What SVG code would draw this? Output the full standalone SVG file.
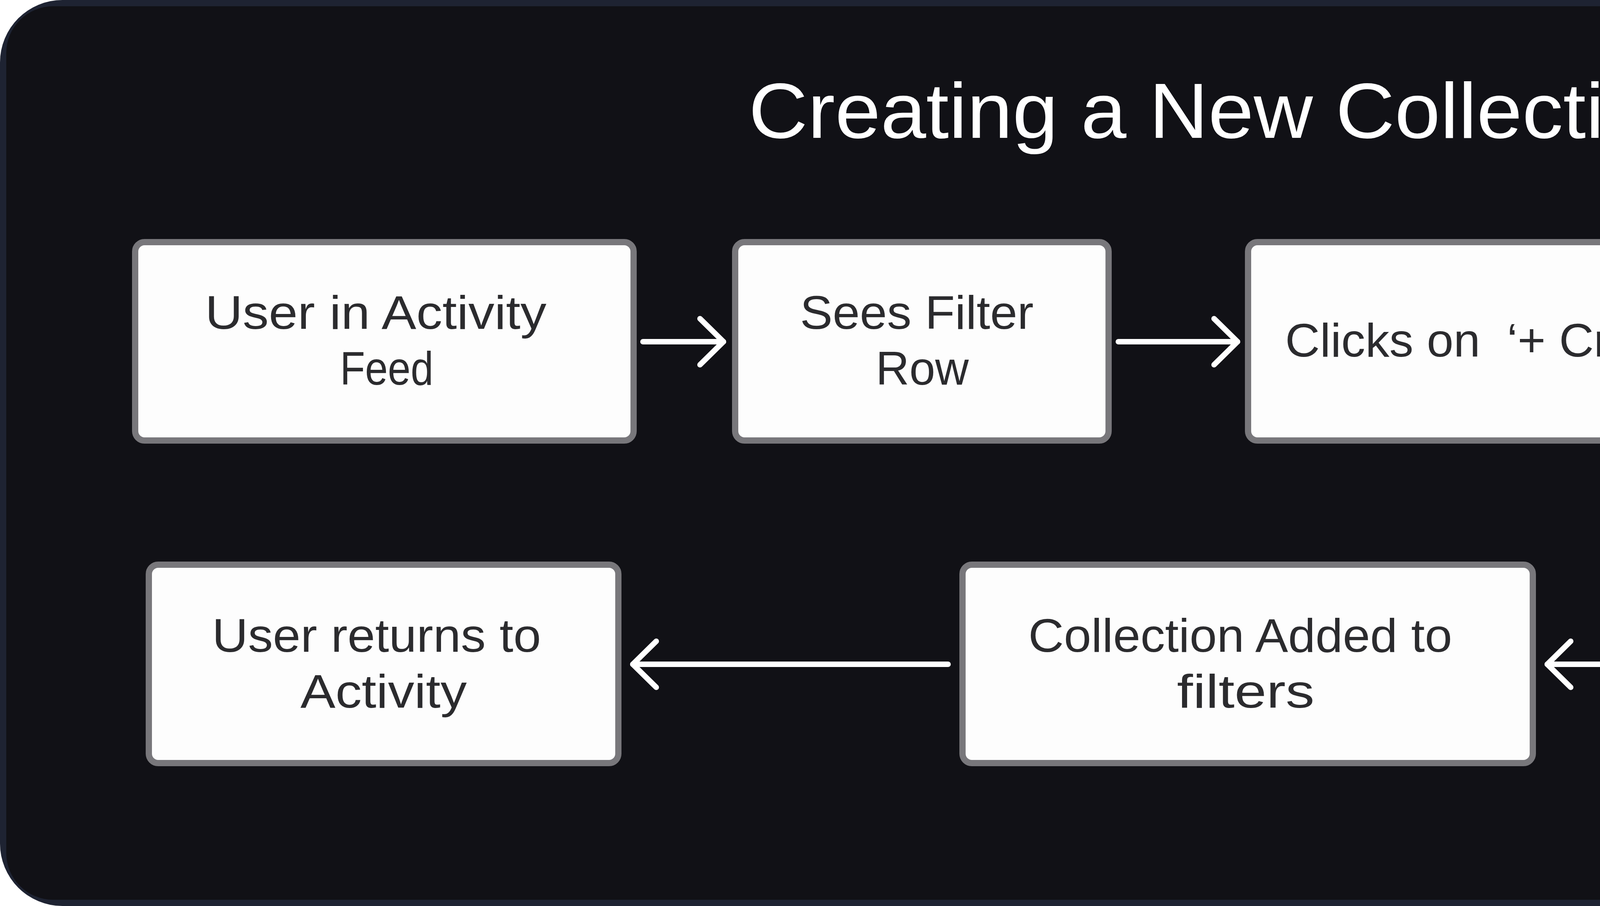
<svg xmlns="http://www.w3.org/2000/svg" width="6256" height="2320" viewBox="0 0 6256 2320">
  <style>
    .box { fill: #fdfdfd; stroke: #78777b; stroke-width: 16; }
    .lbl { font-family: "Liberation Sans", Arial, sans-serif; font-size: 120px; fill: #2b2b2e; text-anchor: middle; }
    .title { font-family: "Liberation Sans", Arial, sans-serif; font-size: 200px; fill: #ffffff; text-anchor: middle; }
    .conn { fill: none; stroke: #ffffff; stroke-width: 14; stroke-linecap: round; stroke-linejoin: round; }
  </style>
  <defs>
    <clipPath id="frameClip">
      <rect x="0" y="0" width="6256" height="2320" rx="160" ry="160"/>
    </clipPath>
    <marker id="arrow" viewBox="-75 -75 90 150" markerWidth="90" markerHeight="150" markerUnits="userSpaceOnUse" refX="0" refY="0" orient="auto">
      <path d="M-60,-59 L0,0 L-60,59" fill="none" stroke="#ffffff" stroke-width="14" stroke-linecap="round" stroke-linejoin="round"/>
    </marker>
  </defs>

  <rect x="0" y="0" width="6256" height="2320" fill="#ffffff"/>
  <g id="frame">
    <rect x="0" y="0" width="6256" height="2320" rx="160" ry="160" fill="#1e2332"/>
    <rect x="16" y="16" width="6224" height="2288" rx="120" ry="120" fill="#111116" clip-path="url(#frameClip)"/>
  </g>

  <text id="title" class="title" x="3128" y="353" textLength="2423" lengthAdjust="spacingAndGlyphs">Creating a New Collection</text>

  <g id="connectors">
    <line class="conn" x1="1646" y1="875" x2="1852" y2="875" marker-end="url(#arrow)"/>
    <line class="conn" x1="2863" y1="875" x2="3168" y2="875" marker-end="url(#arrow)"/>
    <line class="conn" x1="4500" y1="875" x2="4799" y2="875" marker-end="url(#arrow)"/>
    <line class="conn" x1="5367" y1="1157" x2="5367" y2="1419" marker-end="url(#arrow)"/>
    <line class="conn" x1="4797" y1="1701" x2="3961" y2="1701" marker-end="url(#arrow)"/>
    <line class="conn" x1="2427" y1="1701" x2="1620" y2="1701" marker-end="url(#arrow)"/>
  </g>

  <g id="node-user-in-activity-feed">
    <rect class="box" x="346" y="620" width="1276" height="508" rx="24" ry="24"/>
    <text class="lbl" x="962" y="842" textLength="874" lengthAdjust="spacingAndGlyphs">User in Activity</text>
    <text class="lbl" x="990" y="985" textLength="239" lengthAdjust="spacingAndGlyphs">Feed</text>
  </g>

  <g id="node-sees-filter-row">
    <rect class="box" x="1882" y="620" width="956" height="508" rx="24" ry="24"/>
    <text class="lbl" x="2347" y="842" textLength="598" lengthAdjust="spacingAndGlyphs">Sees Filter</text>
    <text class="lbl" x="2361" y="985" textLength="238" lengthAdjust="spacingAndGlyphs">Row</text>
  </g>

  <g id="node-clicks-on-plus-create">
    <rect class="box" x="3195" y="620" width="1272" height="508" rx="24" ry="24"/>
    <text class="lbl" x="3839" y="913" textLength="1098" lengthAdjust="spacingAndGlyphs" xml:space="preserve">Clicks on  ‘+ Create’</text>
  </g>

  <g id="node-enters-collection-name">
    <rect class="box" x="4825" y="620" width="1086" height="508" rx="24" ry="24"/>
    <text class="lbl" x="5349" y="842" textLength="366" lengthAdjust="spacingAndGlyphs">Enters</text>
    <text class="lbl" x="5381" y="985" textLength="916" lengthAdjust="spacingAndGlyphs">Collection Name</text>
  </g>

  <g id="node-clicks-on-create">
    <rect class="box" x="4825" y="1446" width="1086" height="508" rx="24" ry="24"/>
    <text class="lbl" x="5376" y="1740" textLength="950" lengthAdjust="spacingAndGlyphs">Clicks on ‘Create’</text>
  </g>

  <g id="node-collection-added-to-filters">
    <rect class="box" x="2464" y="1446" width="1460" height="508" rx="24" ry="24"/>
    <text class="lbl" x="3175" y="1669" textLength="1085" lengthAdjust="spacingAndGlyphs">Collection Added to</text>
    <text class="lbl" x="3189" y="1812" textLength="352" lengthAdjust="spacingAndGlyphs">filters</text>
  </g>

  <g id="node-user-returns-to-activity">
    <rect class="box" x="381" y="1446" width="1202" height="508" rx="24" ry="24"/>
    <text class="lbl" x="964" y="1669" textLength="842" lengthAdjust="spacingAndGlyphs">User returns to</text>
    <text class="lbl" x="982" y="1812" textLength="426" lengthAdjust="spacingAndGlyphs">Activity</text>
  </g>
</svg>
